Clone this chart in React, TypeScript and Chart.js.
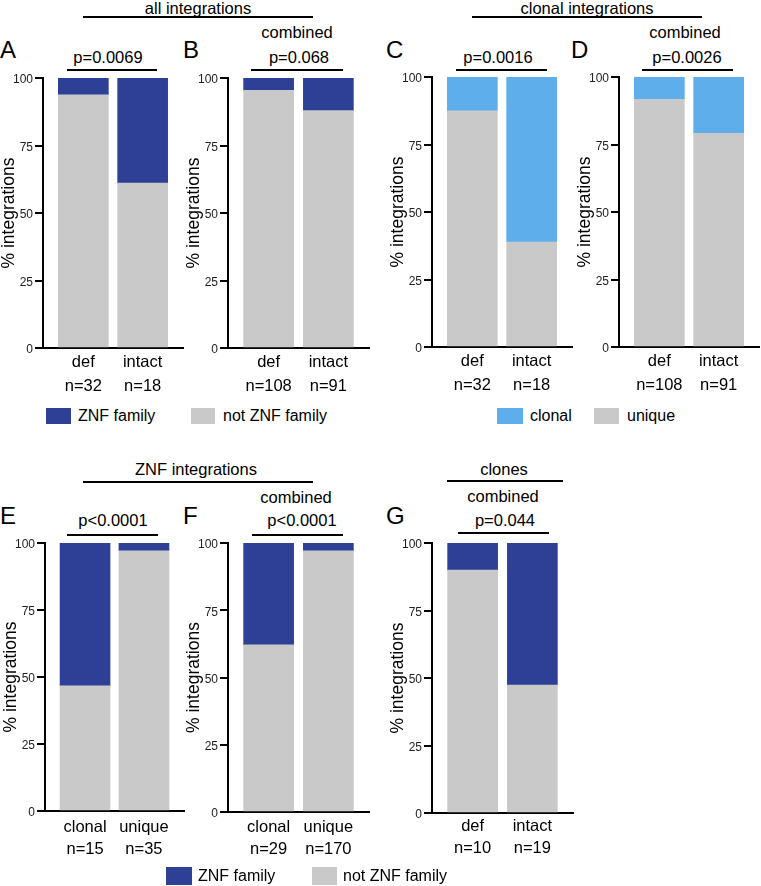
import React, { useEffect, useRef } from 'react';
import { Chart, registerables } from 'chart.js';

Chart.register(...registerables);

// ---------------- data ----------------
const catsDefIntact = ['def', 'intact'];
const catsClonalUnique = ['clonal', 'unique'];

const nA = ['n=32', 'n=18'];
const nB = ['n=108', 'n=91'];
const nC = ['n=32', 'n=18'];
const nD = ['n=108', 'n=91'];
const nE = ['n=15', 'n=35'];
const nF = ['n=29', 'n=170'];
const nG = ['n=10', 'n=19'];

// A: all integrations (ZNF family vs not)
const notZnfA = [93.8, 61.1];
const znfA = [6.2, 38.9];
// B: all integrations, combined
const notZnfB = [95.4, 87.9];
const znfB = [4.6, 12.1];
// C: clonal integrations (unique vs clonal)
const uniqueC = [87.5, 38.9];
const clonalC = [12.5, 61.1];
// D: clonal integrations, combined
const uniqueD = [91.7, 79.1];
const clonalD = [8.3, 20.9];
// E: ZNF integrations
const notZnfE = [46.7, 97.1];
const znfE = [53.3, 2.9];
// F: ZNF integrations, combined
const notZnfF = [62.1, 97.1];
const znfF = [37.9, 2.9];
// G: clones, combined
const notZnfG = [90.0, 47.4];
const znfG = [10.0, 52.6];

const yTicks = [0, 25, 50, 75, 100];

// ---------------- styles ----------------
const DARK_BLUE = '#2E4095';
const LIGHT_BLUE = '#5FAEEC';
const GRAY = '#C9C9C9';
const FONT = "'Liberation Sans', Arial, Helvetica, sans-serif";

Chart.defaults.font.family = FONT;

type PanelProps = {
  ax: number; rx: number; ty: number; by: number;
  lh: number; lp: number;
  cats: string[]; ns: string[];
  bottom: number[]; top: number[];
  bottomLabel: string; topLabel: string; topColor: string;
};

const AXIS_W = 43;
const XAXIS_H = 55;
const PAD_TOP = 10;
const PAD_R = 2;

function Panel(p: PanelProps) {
  const ref = useRef<HTMLCanvasElement | null>(null);
  const width = p.rx - p.ax + AXIS_W + PAD_R;
  const height = p.by - p.ty + PAD_TOP + XAXIS_H;
  useEffect(() => {
    if (!ref.current) return;
    const chart = new Chart(ref.current, {
      type: 'bar',
      data: {
        datasets: [
          {
            label: p.bottomLabel,
            data: p.bottom.map((v, i) => ({ x: i, y: v })),
            backgroundColor: GRAY,
            barThickness: 50,
          },
          {
            label: p.topLabel,
            data: p.top.map((v, i) => ({ x: i, y: v })),
            backgroundColor: p.topColor,
            barThickness: 50,
          },
        ],
      },
      options: {
        responsive: false,
        maintainAspectRatio: false,
        animation: false,
        layout: { padding: { top: PAD_TOP, right: PAD_R, left: 0, bottom: 0 } },
        plugins: { legend: { display: false }, tooltip: { enabled: false } },
        scales: {
          x: {
            type: 'linear',
            stacked: true,
            min: -0.68,
            max: 1.68,
            offset: false,
            grid: { display: false, drawTicks: false },
            border: { display: true, color: '#000', width: 2 },
            afterBuildTicks: (s: any) => {
              s.ticks = p.cats.map((_, i) => ({ value: i }));
            },
            ticks: {
              autoSkip: false,
              maxRotation: 0,
              minRotation: 0,
              padding: p.lp,
              color: '#000',
              font: { size: 16.5, lineHeight: p.lh / 16.5 },
              callback: (_v: any, i: number) => [p.cats[i], p.ns[i]],
            },
            afterFit: (s: any) => { s.height = XAXIS_H; },
          },
          y: {
            stacked: true,
            min: 0,
            max: 100,
            afterBuildTicks: (s: any) => {
              s.ticks = yTicks.map((v) => ({ value: v }));
            },
            ticks: { color: '#222', padding: 2, labelOffset: 2, font: { size: 12 } },
            grid: { drawOnChartArea: false, drawTicks: true, tickLength: 8, color: '#000', lineWidth: 2 },
            border: { display: true, color: '#000', width: 2 },
            title: {
              display: true,
              text: '% integrations',
              color: '#000',
              font: { size: 17.5, lineHeight: 1 },
              padding: { top: 0, bottom: 0 },
            },
            afterFit: (s: any) => { s.width = AXIS_W; },
          },
        },
      } as any,
    });
    return () => chart.destroy();
  }, []);
  return (
    <canvas
      ref={ref}
      width={width}
      height={height}
      style={{ position: 'absolute', left: p.ax - AXIS_W, top: p.ty - PAD_TOP, width, height }}
    />
  );
}

function T(props: { x: number; y: number; s?: number; children: React.ReactNode }) {
  return (
    <div
      style={{
        position: 'absolute',
        left: props.x,
        top: props.y,
        transform: 'translate(-50%, -50%)',
        whiteSpace: 'nowrap',
        fontSize: props.s ?? 16.5,
        lineHeight: 1,
        color: '#000',
      }}
    >
      {props.children}
    </div>
  );
}

function L(props: { x: number; y: number; s?: number; children: React.ReactNode }) {
  return (
    <div
      style={{
        position: 'absolute',
        left: props.x,
        top: props.y,
        transform: 'translateY(-50%)',
        whiteSpace: 'nowrap',
        fontSize: props.s ?? 16,
        lineHeight: 1,
        color: '#000',
      }}
    >
      {props.children}
    </div>
  );
}

function HLine(props: { x1: number; x2: number; y: number }) {
  return (
    <div
      style={{
        position: 'absolute',
        left: props.x1,
        top: props.y - 1,
        width: props.x2 - props.x1,
        height: 2,
        background: '#000',
      }}
    />
  );
}

function Sw(props: { x: number; y: number; w: number; h: number; c: string }) {
  return (
    <div style={{ position: 'absolute', left: props.x, top: props.y, width: props.w, height: props.h, background: props.c }} />
  );
}

export default function App() {
  return (
    <div
      style={{
        position: 'absolute',
        left: 0,
        top: 0,
        width: 761,
        height: 886,
        overflow: 'hidden',
        background: '#fff',
        fontFamily: FONT,
      }}
    >
      {/* ---------- top row headers ---------- */}
      <T x={198} y={8}>all integrations</T>
      <HLine x1={83} x2={313} y={17} />
      <T x={587} y={8}>clonal integrations</T>
      <HLine x1={472} x2={702} y={17} />

      <L x={0} y={50} s={24}>A</L>
      <L x={183} y={50} s={24}>B</L>
      <L x={386} y={50} s={24}>C</L>
      <L x={571} y={50} s={24}>D</L>

      <T x={108} y={57}>p=0.0069</T>
      <HLine x1={67} x2={157} y={70} />
      <T x={297} y={32}>combined</T>
      <T x={299} y={57}>p=0.068</T>
      <HLine x1={251} x2={343} y={70} />
      <T x={498} y={57}>p=0.0016</T>
      <HLine x1={456} x2={547} y={70} />
      <T x={685} y={32}>combined</T>
      <T x={687} y={57}>p=0.0026</T>
      <HLine x1={642} x2={733} y={70} />

      <Panel ax={43} rx={183} ty={78} by={348} lh={24} lp={2} cats={catsDefIntact} ns={nA}
        bottom={notZnfA} top={znfA} bottomLabel="not ZNF family" topLabel="ZNF family" topColor={DARK_BLUE} />
      <Panel ax={228} rx={369} ty={78} by={348} lh={24} lp={2} cats={catsDefIntact} ns={nB}
        bottom={notZnfB} top={znfB} bottomLabel="not ZNF family" topLabel="ZNF family" topColor={DARK_BLUE} />
      <Panel ax={432} rx={572} ty={77} by={347} lh={24} lp={2} cats={catsDefIntact} ns={nC}
        bottom={uniqueC} top={clonalC} bottomLabel="unique" topLabel="clonal" topColor={LIGHT_BLUE} />
      <Panel ax={619} rx={759} ty={77} by={347} lh={24} lp={2} cats={catsDefIntact} ns={nD}
        bottom={uniqueD} top={clonalD} bottomLabel="unique" topLabel="clonal" topColor={LIGHT_BLUE} />

      {/* ---------- top legends ---------- */}
      <Sw x={46} y={408} w={25} h={16} c={DARK_BLUE} />
      <L x={78} y={416}>ZNF family</L>
      <Sw x={191} y={408} w={24} h={16} c={GRAY} />
      <L x={223} y={416}>not ZNF family</L>

      <Sw x={497} y={408} w={26} h={16} c={LIGHT_BLUE} />
      <L x={530} y={416}>clonal</L>
      <Sw x={594} y={408} w={25} h={16} c={GRAY} />
      <L x={627} y={416}>unique</L>

      {/* ---------- bottom row headers ---------- */}
      <T x={196} y={469}>ZNF integrations</T>
      <HLine x1={83} x2={313} y={482} />
      <T x={504} y={469}>clones</T>
      <HLine x1={447} x2={563} y={481} />

      <L x={0} y={516} s={24}>E</L>
      <L x={183} y={516} s={24}>F</L>
      <L x={386} y={516} s={24}>G</L>

      <T x={113} y={520}>p&lt;0.0001</T>
      <HLine x1={67} x2={158} y={535} />
      <T x={296} y={497}>combined</T>
      <T x={302} y={520}>p&lt;0.0001</T>
      <HLine x1={252} x2={343} y={535} />
      <T x={503} y={496}>combined</T>
      <T x={505} y={520}>p=0.044</T>
      <HLine x1={458} x2={549} y={533} />

      <Panel ax={45} rx={184} ty={543} by={811} lh={22} lp={5} cats={catsClonalUnique} ns={nE}
        bottom={notZnfE} top={znfE} bottomLabel="not ZNF family" topLabel="ZNF family" topColor={DARK_BLUE} />
      <Panel ax={228} rx={369} ty={543} by={812} lh={22} lp={4} cats={catsClonalUnique} ns={nF}
        bottom={notZnfF} top={znfF} bottomLabel="not ZNF family" topLabel="ZNF family" topColor={DARK_BLUE} />
      <Panel ax={432} rx={573} ty={543} by={813} lh={22} lp={2} cats={catsDefIntact} ns={nG}
        bottom={notZnfG} top={znfG} bottomLabel="not ZNF family" topLabel="ZNF family" topColor={DARK_BLUE} />

      {/* ---------- bottom legend ---------- */}
      <Sw x={166} y={867} w={26} h={18} c={DARK_BLUE} />
      <L x={198} y={876}>ZNF family</L>
      <Sw x={312} y={867} w={25} h={18} c={GRAY} />
      <L x={343} y={876}>not ZNF family</L>
    </div>
  );
}
